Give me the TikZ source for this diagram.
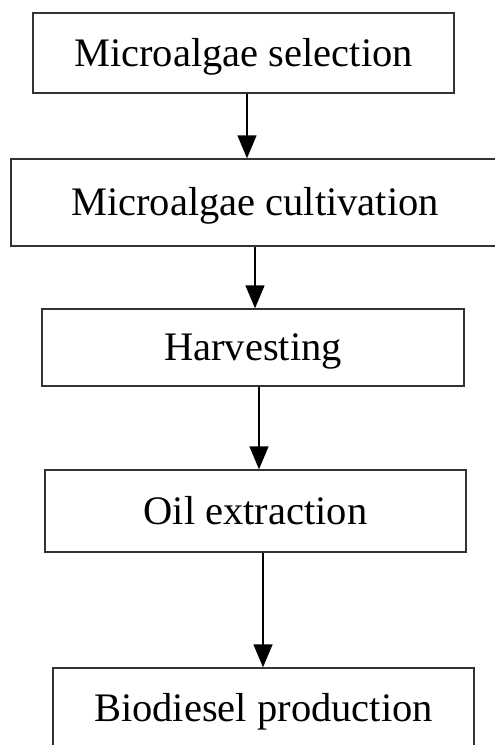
\documentclass[tikz,border=0pt]{standalone}
\usepackage{fontspec}
\setmainfont{Liberation Serif}
\usetikzlibrary{arrows.meta}

\begin{document}
\begin{tikzpicture}[
    x=1pt, y=-1pt,
    >={Triangle[width=19pt,length=23pt]},
    every node/.style={font=\fontsize{40.5}{46}\selectfont},
    stage/.style={draw=black!80, line width=1.4pt, inner sep=0pt, text height=26pt, text depth=0pt},
    line width=1.4pt
]
\clip (0,0) rectangle (495,745);

\node[stage, minimum width=421pt, minimum height=80pt] (sel) at (243.5,53) {Microalgae selection};
\node[stage, minimum width=488pt, minimum height=87pt] (cul) at (255,202.5) {Microalgae cultivation};
\node[stage, minimum width=422pt, minimum height=77pt] (har) at (253,347.5) {Harvesting};
\node[stage, minimum width=421pt, minimum height=82pt] (oil) at (255.5,511) {Oil extraction};
\node[stage, minimum width=421pt, minimum height=80pt] (bio) at (263.5,708) {Biodiesel production};

\coordinate (x1) at (247,0);
\coordinate (x2) at (255,0);
\coordinate (x3) at (259,0);
\coordinate (x4) at (263,0);

\draw[->] (sel.south -| x1) -- (cul.north -| x1);
\draw[->] (cul.south -| x2) -- (har.north -| x2);
\draw[->] (har.south -| x3) -- (oil.north -| x3);
\draw[->] (oil.south -| x4) -- (bio.north -| x4);

\end{tikzpicture}
\end{document}
